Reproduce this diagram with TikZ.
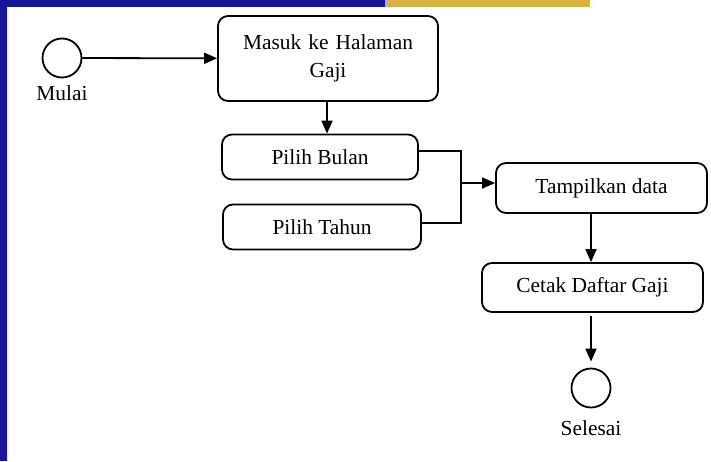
\documentclass[tikz,border=0pt]{standalone}
\usepackage{fontspec}
\setmainfont{Liberation Serif}
\usetikzlibrary{positioning,arrows.meta}

\definecolor{bgblue}{RGB}{24,22,150}
\definecolor{bggold}{RGB}{214,178,62}

\begin{document}
\begin{tikzpicture}[x=0.5pt,y=-0.5pt,
    line width=0.9pt,
    font=\fontsize{10.7}{14}\selectfont,
    box/.style={rectangle,draw,rounded corners=5pt,align=center,inner sep=2pt},
    state/.style={circle,draw,minimum size=19.5pt,inner sep=0pt},
    flow/.style={-{Triangle[length=6.5pt,width=5.5pt]}}]
            \useasboundingbox (0,0) rectangle (711,461);
            % background strips
            \fill[bgblue] (0,0) rectangle (7,461);
            \fill[bgblue] (0,0) rectangle (385,7);
            \fill[bggold] (385,0) rectangle (590,7);

            \node [state] (mulai) at (62,58) {};
            \node (mulaitext) at (62,93) {Mulai};
            \node [box,minimum width=110pt,minimum height=42.5pt,text width=100pt] (masuk) at (328,58.5) {Masuk ke Halaman\\Gaji};
            \node [box,minimum width=98pt,minimum height=22.5pt] (bulan) at (320,157) {Pilih Bulan};
            \node [box,minimum width=99pt,minimum height=22.5pt] (tahun) at (322,227) {Pilih Tahun};
            \node [box,minimum width=105.5pt,minimum height=25pt] (tampil) at (601.5,188) {Tampilkan data};
            \node [box,minimum width=110.5pt,minimum height=24.5pt] (cetak) at (592.5,287.5) {Cetak Daftar Gaji};
            \node [state] (selesai) at (591,388) {};
            \node (selesaitext) at (591,428) {Selesai};
            \coordinate (join) at (461,183);

            \path[flow]
            (mulai) edge (masuk)
            (masuk.south -| 327,0) edge (bulan.north -| 327,0)
            (join) edge (join -| tampil.west)
            (tampil.south -| selesai) edge (cetak.north -| selesai)
            ([yshift=-1.5pt]selesai.north |- cetak.south) edge[shorten >=3pt] (selesai.north)
            ;
            \path[-]
            ([yshift=3pt]bulan.east) edge[to path={-| (\tikztotarget)}] (join)
            ([yshift=2pt]tahun.east) edge[to path={-| (\tikztotarget)}] (join)
            ;

        \end{tikzpicture}
\end{document}
